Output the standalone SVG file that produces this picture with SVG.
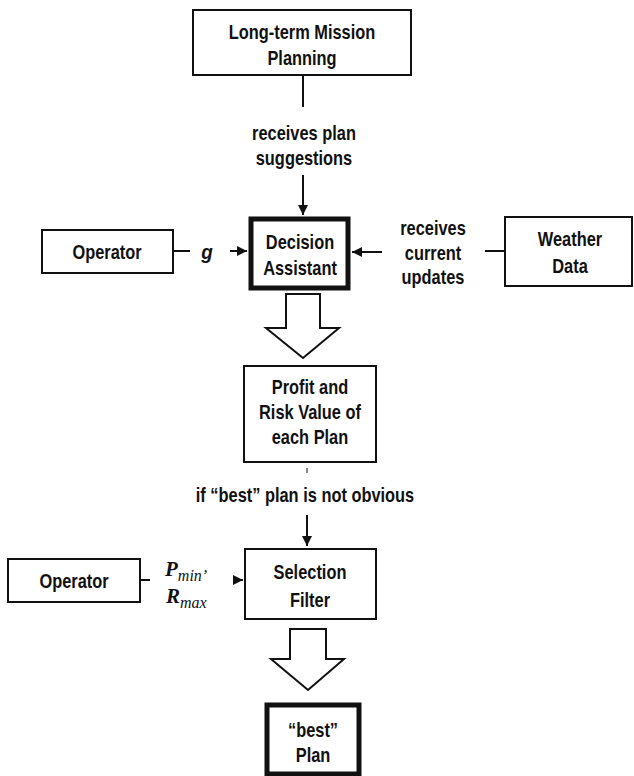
<svg xmlns="http://www.w3.org/2000/svg" width="634" height="776" viewBox="0 0 634 776">
<defs>
<style>
text{font-family:"Liberation Sans",Arial,sans-serif;font-weight:bold;font-size:20px;fill:#111;text-anchor:middle;dominant-baseline:central}
.box{fill:#fff;stroke:#111;stroke-width:2}
.thick{fill:#fff;stroke:#111;stroke-width:5}
.ln{fill:none;stroke:#111;stroke-width:2}
.big{fill:#fff;stroke:#111;stroke-width:2;stroke-linejoin:miter}
.m{font-family:"Liberation Serif",serif;font-style:italic;text-anchor:start;dominant-baseline:auto}
</style>
<marker id="ah" viewBox="0 0 10 10" refX="10" refY="5" markerWidth="5" markerHeight="5" orient="auto" markerUnits="strokeWidth">
<path d="M0,0 L10,5 L0,10 z" fill="#111"/>
</marker>
</defs>
<g id="connectors">
<line class="ln" x1="303" y1="75" x2="303" y2="107"/>
<text transform="translate(304 133) scale(.82 1)">receives plan</text>
<text transform="translate(304 158) scale(.82 1)">suggestions</text>
<line class="ln" x1="303" y1="175" x2="303" y2="215" marker-end="url(#ah)"/>
<line class="ln" x1="173" y1="251" x2="190" y2="251"/>
<text transform="translate(207 252) scale(.9 1)" style="font-style:italic;font-size:21px">g</text>
<line class="ln" x1="230" y1="251" x2="247" y2="251" marker-end="url(#ah)"/>
<line class="ln" x1="382" y1="252" x2="352" y2="252" marker-end="url(#ah)"/>
<text transform="translate(433 228) scale(.82 1)">receives</text>
<text transform="translate(433 253) scale(.82 1)">current</text>
<text transform="translate(433 277) scale(.82 1)">updates</text>
<line class="ln" x1="485" y1="251" x2="505" y2="251"/>
<polygon class="big" points="286,294 320,294 320,328 339,328 303,358 266,328 286,328"/>
<line class="ln" x1="307" y1="468" x2="307" y2="473" style="stroke-width:1"/>
<text transform="translate(305 495) scale(.82 1)">if “best” plan is not obvious</text>
<line class="ln" x1="307" y1="515" x2="307" y2="546" marker-end="url(#ah)"/>
<line class="ln" x1="140" y1="580" x2="150" y2="580"/>
<text class="m" x="165" y="576" style="font-size:21px">P<tspan dy="5" style="font-size:16px;font-weight:normal">min</tspan><tspan style="font-size:16px;font-weight:normal">’</tspan></text>
<text class="m" x="166" y="603" style="font-size:21px">R<tspan dy="5" style="font-size:16px;font-weight:normal">max</tspan></text>
<line class="ln" x1="233" y1="580" x2="243" y2="580" marker-end="url(#ah)"/>
<polygon class="big" points="290,629 326,629 326,659 344,659 308,690 271,659 290,659"/>
</g>
<g id="long-term"><rect class="box" x="193" y="10" width="218" height="65"/><text transform="translate(302 32) scale(.82 1)">Long-term Mission</text><text transform="translate(302 58) scale(.82 1)">Planning</text></g>
<g id="operator1"><rect class="box" x="42" y="230" width="131" height="43"/><text transform="translate(107 252) scale(.82 1)">Operator</text></g>
<g id="decision"><rect class="thick" x="251" y="219" width="97" height="69"/><text transform="translate(300 242) scale(.82 1)">Decision</text><text transform="translate(300 268) scale(.82 1)">Assistant</text></g>
<g id="weather"><rect class="box" x="505" y="217" width="127" height="69"/><text transform="translate(570 239) scale(.82 1)">Weather</text><text transform="translate(570 266) scale(.82 1)">Data</text></g>
<g id="profit"><rect class="box" x="244" y="366" width="132" height="96"/><text transform="translate(310 387) scale(.82 1)">Profit and</text><text transform="translate(310 412) scale(.82 1)">Risk Value of</text><text transform="translate(310 437) scale(.82 1)">each Plan</text></g>
<g id="operator2"><rect class="box" x="8" y="559" width="132" height="43"/><text transform="translate(74 581) scale(.82 1)">Operator</text></g>
<g id="selection"><rect class="box" x="245" y="549" width="131" height="70"/><text transform="translate(310 572) scale(.82 1)">Selection</text><text transform="translate(310 600) scale(.82 1)">Filter</text></g>
<g id="best"><rect class="thick" x="267" y="705" width="92" height="69"/><text transform="translate(313 730) scale(.82 1)">“best”</text><text transform="translate(313 755) scale(.82 1)">Plan</text></g>
</svg>
